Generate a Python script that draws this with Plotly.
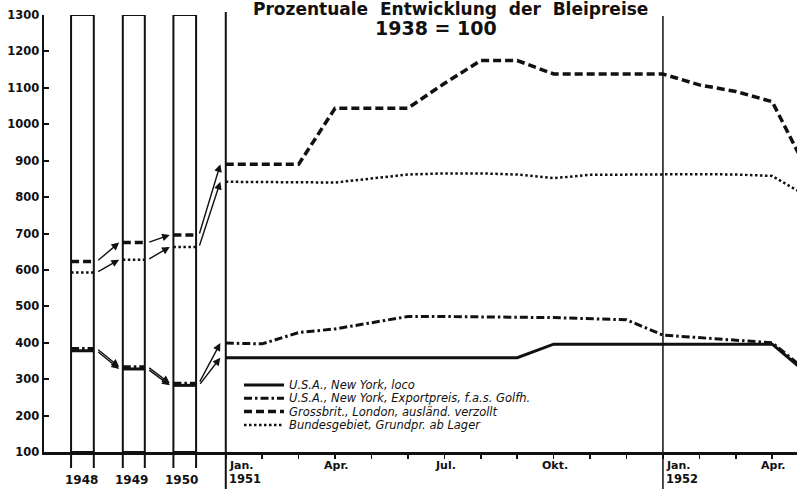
import plotly.graph_objects as go

# ---------------- data ----------------
years = ["1948", "1949", "1950"]
year_loco = [378, 328, 283]
year_export = [384, 334, 289]
year_gb = [623, 675, 696]
year_bund = [593, 628, 663]

months = ["Jan 1951", "Feb 1951", "Mar 1951", "Apr 1951", "May 1951", "Jun 1951",
          "Jul 1951", "Aug 1951", "Sep 1951", "Oct 1951", "Nov 1951", "Dec 1951",
          "Jan 1952", "Feb 1952", "Mar 1952", "Apr 1952", "May 1952"]
loco = [359, 359, 359, 359, 359, 359, 359, 359, 359, 396, 396, 396, 396, 396, 396, 396, 312]
export = [399, 397, 428, 438, 455, 472, 472, 472, 470, 469, 467, 463, 421, 413, 407, 400, 318]
gb = [890, 890, 890, 1044, 1044, 1044, 1112, 1175, 1175, 1138, 1138, 1138, 1138, 1108, 1090, 1062, 865]
bund = [842, 842, 840, 840, 851, 862, 865, 865, 862, 852, 861, 862, 862, 863, 862, 858, 800]

month_ticktext = ["", "", "", "Apr.", "", "", "Jul.", "", "", "Okt.", "", "", "", "", "", "Apr."]
jan_labels = ["Jan.", "Jan."]
jan_years = ["1951", "1952"]
y_ticks = [100, 200, 300, 400, 500, 600, 700, 800, 900, 1000, 1100, 1200, 1300]

series_names = ["U.S.A., New York, loco",
                "U.S.A., New York, Exportpreis, f.a.s. Golfh.",
                "Grossbrit., London, ausländ. verzollt",
                "Bundesgebiet, Grundpr. ab Lager"]
title1 = "Prozentuale  Entwicklung  der  Bleipreise"
title2 = "1938 = 100"

# ---------------- layout constants ----------------
box_edges = [(-4.247, -3.623), (-2.827, -2.223), (-1.438, -0.815)]
year_label_x = [-3.96, -2.6, -1.22]
jan_x = [0, 12]
INK = "#111111"
W_, H_ = 797, 489
ML, MR, MT, MB = 44, 0, 15, 37
PW, PH = W_ - ML - MR, H_ - MT - MB

styles = [
    dict(width=3, dash="solid"),
    dict(width=3, dash="8px,3px,2.5px,3px"),
    dict(width=3.5, dash="8px,4px"),
    dict(width=2.5, dash="2.5px,2.5px"),
]
year_vals = [year_loco, year_export, year_gb, year_bund]
month_vals = [loco, export, gb, bund]


def px_y(py):
    return (H_ - MB - py) / PH


def px_x(px):
    return (px - ML) / PW


fig = go.Figure()
for name, yv, mv, st in zip(series_names, year_vals, month_vals, styles):
    xs, ys = [], []
    for (x0, x1), v in zip(box_edges, yv):
        xs += [x0, x1, None]
        ys += [v, v, None]
    xs += list(range(len(months)))
    ys += mv
    fig.add_trace(go.Scatter(x=xs, y=ys, mode="lines", name=name, showlegend=False,
                             line=dict(color=INK, width=st["width"], dash=st["dash"]),
                             hoverinfo="skip"))

shapes = []
annotations = []
# year boxes
for x0, x1 in box_edges:
    shapes.append(dict(type="rect", xref="x", yref="y", x0=x0, x1=x1, y0=100, y1=1300,
                       line=dict(color=INK, width=2)))
    for xx in (x0, x1):
        shapes.append(dict(type="line", xref="x", yref="paper", x0=xx, x1=xx,
                           y0=px_y(468), y1=0, line=dict(color=INK, width=2)))
# Jan vertical lines
shapes.append(dict(type="line", xref="x", yref="paper", x0=0, x1=0, y0=px_y(489), y1=px_y(12),
                   line=dict(color=INK, width=2)))
shapes.append(dict(type="line", xref="x", yref="paper", x0=12, x1=12, y0=px_y(489), y1=px_y(16),
                   line=dict(color=INK, width=1.5)))

# arrows between years
for yv, mv in zip(year_vals, month_vals):
    for i in range(3):
        tail_x = box_edges[i][1] + 0.08
        if i < 2:
            head_x, head_y = box_edges[i + 1][0] - 0.1, yv[i + 1]
        else:
            head_x, head_y = -0.15, mv[0]
        annotations.append(dict(x=head_x, y=head_y, ax=tail_x, ay=yv[i],
                                xref="x", yref="y", axref="x", ayref="y",
                                text="", showarrow=True, arrowhead=2, arrowsize=1.1,
                                arrowwidth=1.4, arrowcolor=INK, standoff=0, startstandoff=0))

# legend (manual)
leg_rows = [385, 398.3, 411.6, 425]
for name, st, ry in zip(series_names, styles, leg_rows):
    shapes.append(dict(type="line", xref="paper", yref="paper", x0=px_x(244), x1=px_x(284),
                       y0=px_y(ry), y1=px_y(ry),
                       line=dict(color=INK, width=st["width"], dash=st["dash"])))
    annotations.append(dict(x=px_x(288), y=px_y(ry), xref="paper", yref="paper",
                            text="<i>" + name + "</i>", showarrow=False, xanchor="left",
                            yanchor="middle", borderpad=0,
                            font=dict(family="DejaVu Sans", size=11.5, color=INK)))

# month labels
for xm, lab in enumerate(month_ticktext):
    if lab:
        annotations.append(dict(x=xm, y=px_y(466), xref="x", yref="paper", text="<b>" + lab + "</b>",
                                showarrow=False, xanchor="center", yanchor="middle", xshift=1,
                                font=dict(family="DejaVu Sans", size=11, color=INK)))
# Jan labels
for xm, lab, yr in zip(jan_x, jan_labels, jan_years):
    annotations.append(dict(x=xm, y=px_y(465), xref="x", yref="paper", text="<b>" + lab + "</b>",
                            showarrow=False, xanchor="left", yanchor="middle", xshift=1,
                            font=dict(family="DejaVu Sans", size=11, color=INK)))
    annotations.append(dict(x=xm, y=px_y(479), xref="x", yref="paper", text="<b>" + yr + "</b>",
                            showarrow=False, xanchor="left", yanchor="middle", xshift=1,
                            font=dict(family="DejaVu Sans", size=11.5, color=INK)))
# year labels
for xm, lab in zip(year_label_x, years):
    annotations.append(dict(x=xm, y=px_y(480), xref="x", yref="paper", text="<b>" + lab + "</b>",
                            showarrow=False, xanchor="center", yanchor="middle",
                            font=dict(family="DejaVu Sans", size=12, color=INK)))
# titles
annotations.append(dict(x=px_x(450), y=px_y(9), xref="paper", yref="paper", text="<b>" + title1 + "</b>",
                        showarrow=False, xanchor="center", yanchor="middle",
                        font=dict(family="DejaVu Sans", size=17, color=INK)))
annotations.append(dict(x=px_x(436), y=px_y(28), xref="paper", yref="paper", text="<b>" + title2 + "</b>",
                        showarrow=False, xanchor="center", yanchor="middle",
                        font=dict(family="DejaVu Sans", size=19, color=INK)))

fig.update_layout(
    width=W_, height=H_,
    margin=dict(l=ML, r=MR, t=MT, b=MB, autoexpand=False),
    paper_bgcolor="white", plot_bgcolor="white",
    shapes=shapes, annotations=annotations,
    showlegend=False,
    xaxis=dict(range=[-4.99, 15.68], showgrid=False, zeroline=False, showline=True,
               linecolor=INK, linewidth=2.5, ticks="outside", ticklen=4, tickwidth=1.5,
               tickcolor=INK, tickvals=list(range(len(month_ticktext))),
               ticktext=[""] * len(month_ticktext),
               automargin=False, fixedrange=True),
    yaxis=dict(range=[100, 1300], showgrid=False, zeroline=False, showline=True,
               linecolor=INK, linewidth=2.5, ticks="inside", ticklen=5, tickwidth=2,
               tickcolor=INK, tickvals=y_ticks, ticktext=[str(v) for v in y_ticks],
               tickfont=dict(family="DejaVu Sans", size=11.5, color=INK, weight="bold"),
               automargin=False, fixedrange=True),
)

fig.write_html("out.html", config={"staticPlot": True},
               post_script="document.body.style.margin='0';document.body.style.overflow='hidden';")
